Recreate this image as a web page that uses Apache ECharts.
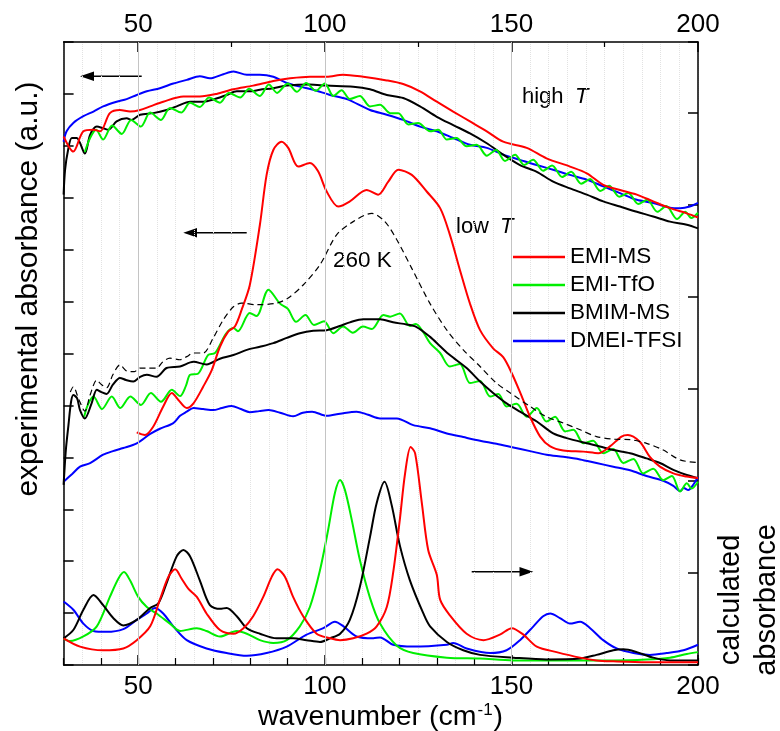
<!DOCTYPE html>
<html><head><meta charset="utf-8">
<script src="https://cdn.jsdelivr.net/npm/echarts@6/dist/echarts.min.js"></script>
<style>html,body{margin:0;padding:0;background:#fff}#c{width:780px;height:731px}</style>
</head><body><div id="c"></div>
<script>
// ---------- data ----------
const seriesNames = ['EMI-MS', 'EMI-TfO', 'BMIM-MS', 'DMEI-TFSI'];
const bottomTickLabels = [50, 100, 150, 200];
const topTickLabels = [50, 100, 150, 200];
const topMinorTicks = [75, 125, 175];

// experimental, high T (left axis, a.u.)
const highEMIMS = [[30,10.18],[32.6,9.89],[35.3,10.28],[38.0,10.31],[39.8,10.28],[42.4,10.63],[45.1,10.69],[47.8,10.66],[50.5,10.69],[53.2,10.76],[56.7,10.85],[62.1,10.95],[66.5,10.95],[71.0,11.0],[75.5,11.09],[80.8,11.16],[86.2,11.25],[90.7,11.30],[96.0,11.33],[100.5,11.33],[104.9,11.37],[110.3,11.33],[116.6,11.26],[121.0,11.19],[125.5,11.05],[130.0,10.85],[134.4,10.66],[138.9,10.47],[143.4,10.28],[147.8,10.08],[154.1,9.96],[159.4,9.76],[165.7,9.60],[170.2,9.47],[174.6,9.25],[179.1,9.15],[183.6,9.06],[188.0,8.93],[192.5,8.80],[197.0,8.70],[200,8.62]];
const highEMITfO = [[35.7,9.88],[37.1,10.15],[38.7,10.31],[40.6,10.12],[43.0,10.39],[45.6,10.23],[48.1,10.50],[50.7,10.37],[53.2,10.64],[56.1,10.50],[58.5,10.73],[61.5,10.64],[63.9,10.83],[66.5,10.75],[69.0,10.93],[71.9,10.83],[74.3,11.02],[77.3,10.93],[79.7,11.10],[82.6,10.96],[85.0,11.18],[87.2,11.02],[90.1,11.20],[92.5,11.04],[95.0,11.21],[97.6,11.06],[100.0,11.20],[102.3,10.96],[104.5,11.07],[106.7,10.90],[109.4,10.96],[112.1,10.76],[114.8,10.79],[117.5,10.63],[119.7,10.63],[122.4,10.41],[125.0,10.44],[128.2,10.28],[130.4,10.31],[132.7,10.12],[135.3,10.15],[138.0,9.99],[140.7,10.02],[143.4,9.81],[145.9,9.92],[148.3,9.71],[151.0,9.83],[153.4,9.63],[155.8,9.73],[158.5,9.52],[160.9,9.62],[163.6,9.40],[166.0,9.50],[168.7,9.27],[171.1,9.36],[173.8,9.13],[176.2,9.23],[178.9,9.02],[181.3,9.09],[184.0,8.88],[186.4,8.96],[189.1,8.73],[191.5,8.84],[194.4,8.59],[196.6,8.73],[198.2,8.61],[200,8.71]];
const highBMIMMS = [[30,9.06],[30.4,9.54],[31.2,9.92],[32.2,10.15],[33.5,10.15],[35.7,9.85],[37.1,10.21],[38.9,10.37],[40.6,10.34],[42.0,10.31],[44.2,10.47],[46.9,10.53],[48.2,10.50],[50.5,10.60],[54.0,10.63],[57.6,10.69],[60.3,10.76],[63.9,10.85],[67.4,10.85],[70.1,10.89],[73.7,10.98],[76.4,11.05],[79.9,11.05],[82.6,11.08],[86.2,11.11],[89.8,11.16],[96.0,11.18],[100.5,11.16],[107.6,11.14],[112.1,11.09],[116.6,10.98],[121.0,10.92],[125.5,10.76],[130.0,10.56],[134.4,10.40],[138.9,10.24],[143.4,10.05],[147.8,9.83],[152.3,9.63],[156.8,9.50],[161.2,9.31],[165.7,9.18],[170.2,9.06],[174.6,8.93],[179.1,8.83],[183.6,8.73],[188.0,8.64],[192.5,8.54],[197.0,8.48],[200,8.41]];
const highDMEITFSI = [[30,10.08],[30.8,10.28],[32.6,10.44],[35.3,10.57],[38.0,10.66],[40.6,10.76],[44.2,10.85],[46.9,10.90],[49.6,10.98],[52.3,11.05],[55.8,11.11],[59.4,11.20],[63.0,11.27],[66.5,11.34],[69.2,11.30],[72.8,11.38],[75.5,11.43],[79.1,11.37],[82.6,11.37],[86.2,11.33],[89.8,11.21],[93.3,11.14],[96.9,11.08],[101.4,10.98],[105.9,10.90],[112.1,10.69],[116.6,10.60],[121.0,10.50],[125.5,10.37],[130.0,10.28],[134.4,10.15],[138.9,10.02],[143.4,9.96],[147.8,9.83],[152.3,9.73],[156.8,9.63],[161.2,9.54],[165.7,9.44],[170.2,9.35],[174.6,9.22],[179.1,9.09],[183.6,8.96],[188.0,8.90],[192.5,8.81],[195.2,8.80],[197.8,8.83],[200,8.90]];

// experimental, low T (left axis, a.u.)
const lowEMIMS = [[49.6,4.48],[51.8,4.43],[54.0,4.59],[56.7,4.98],[59.0,5.24],[60.7,5.11],[63.0,4.95],[64.8,5.04],[67.4,5.36],[69.7,5.68],[71.9,6.13],[74.1,6.42],[75.9,6.52],[77.7,6.84],[79.9,7.32],[82.6,8.48],[84.4,9.44],[86.2,9.92],[88.4,10.08],[90.2,9.96],[92.9,9.60],[96.0,9.67],[98.2,9.51],[100.5,9.12],[103.6,8.83],[106.7,8.93],[111.2,9.15],[114.3,9.06],[117.0,9.31],[119.7,9.54],[123.3,9.44],[127.3,9.12],[130.9,8.80],[133.5,8.29],[136.2,7.61],[138.9,6.96],[141.6,6.45],[145.1,6.10],[147.8,5.93],[150.1,5.62],[152.8,5.17],[155.0,4.78],[157.7,4.40],[160.4,4.21],[163.9,4.13],[169.3,4.11],[173.3,4.08],[176.4,4.21],[179.5,4.40],[181.2,4.43],[184.4,4.30],[187.1,4.01],[189.8,3.82],[193.4,3.69],[196.9,3.63],[200,3.60]];
const lowEMITfO = [[35.5,4.78],[36.5,5.01],[38.0,5.17],[40.3,4.93],[42.9,5.17],[45.2,4.95],[47.9,5.17],[50.7,5.01],[53.4,5.24],[56.1,5.07],[59.0,5.30],[61.2,5.18],[62.8,5.38],[63.9,5.59],[66.0,5.61],[68.7,5.97],[70.6,6.01],[73.5,6.38],[75.5,6.49],[76.7,6.43],[79.9,6.78],[81.7,6.72],[84.9,7.23],[88.0,6.96],[90.1,6.86],[92.3,6.61],[94.8,6.74],[97.1,6.55],[99.8,6.62],[102.3,6.39],[104.9,6.52],[107.5,6.40],[110.2,6.52],[112.6,6.47],[115.7,6.74],[117.5,6.71],[120.1,6.77],[122.8,6.53],[124.4,6.57],[126.3,6.42],[128.2,6.20],[130.9,6.01],[133.5,5.75],[136.2,5.80],[138.9,5.43],[141.6,5.47],[144.3,5.17],[146.5,5.22],[148.7,4.98],[151.4,5.03],[154.1,4.78],[156.8,4.95],[159.4,4.69],[161.7,4.78],[164.4,4.50],[166.6,4.53],[169.3,4.27],[171.9,4.32],[174.6,4.08],[177.3,4.16],[180.0,3.89],[182.7,3.97],[185.3,3.69],[188.0,3.78],[190.7,3.56],[193.0,3.64],[195.2,3.34],[197.0,3.50],[198.3,3.40],[200,3.53]];
const lowBMIMMS = [[30.0,3.47],[30.6,4.14],[31.3,4.62],[32.0,5.07],[32.6,5.20],[33.6,5.14],[34.4,4.91],[35.7,4.75],[37.5,5.04],[38.9,5.30],[40.0,5.26],[41.5,5.22],[43.2,5.40],[45.1,5.53],[46.7,5.49],[48.7,5.46],[50.5,5.55],[52.3,5.59],[54.9,5.55],[57.6,5.72],[61.2,5.75],[64.8,5.84],[68.3,5.79],[71.9,5.90],[75.5,5.97],[79.1,6.07],[82.6,6.13],[86.2,6.20],[89.8,6.30],[93.3,6.39],[96.9,6.44],[100.5,6.45],[104.0,6.53],[106.7,6.60],[110.3,6.66],[114.8,6.66],[118.3,6.60],[121.9,6.56],[124.6,6.51],[128.2,6.32],[130.9,6.14],[133.5,5.97],[138.0,5.72],[141.6,5.46],[145.1,5.24],[148.7,5.04],[152.3,4.88],[156.8,4.69],[161.2,4.46],[164.8,4.37],[170.2,4.27],[173.7,4.21],[177.3,4.14],[181.8,4.08],[186.2,3.98],[189.8,3.89],[193.4,3.76],[197.0,3.66],[200,3.60]];
const lowDMEITFSI = [[30.0,3.53],[32.3,3.68],[34.4,3.82],[37.1,3.89],[40.6,4.05],[43.2,4.12],[46.0,4.18],[49.6,4.27],[53.2,4.45],[55.8,4.55],[59.4,4.66],[61.2,4.80],[63.0,4.88],[64.8,4.95],[67.4,4.93],[70.1,4.91],[72.4,4.95],[75.0,4.99],[77.5,4.93],[79.9,4.87],[82.4,4.89],[84.9,4.91],[88.0,4.86],[91.5,4.79],[94.1,4.86],[96.6,4.88],[100.5,4.80],[104.1,4.84],[108.5,4.88],[111.6,4.82],[114.8,4.75],[119.3,4.75],[123.7,4.62],[128.2,4.56],[132.7,4.46],[137.1,4.39],[141.6,4.32],[146.0,4.26],[150.5,4.19],[155.0,4.12],[159.4,4.05],[163.9,4.01],[168.4,3.96],[172.8,3.89],[177.3,3.82],[181.8,3.75],[186.2,3.64],[190.7,3.55],[193.4,3.45],[195.2,3.35],[196.2,3.41],[197.4,3.37],[198.7,3.47],[200,3.62]];
// EMI-MS at 260 K (dashed)
const k260EMIMS = [[31.8,5.26],[32.6,5.36],[34.1,5.11],[35.7,4.89],[37.1,5.20],[38.9,5.49],[40.0,5.41],[41.5,5.34],[43.2,5.59],[45.1,5.78],[47.0,5.66],[48.9,5.65],[50.5,5.72],[52.3,5.72],[54.9,5.72],[56.6,5.84],[58.5,5.91],[61.2,5.88],[63.0,5.94],[64.8,6.01],[67.4,6.01],[70.1,6.30],[72.8,6.65],[75.5,6.90],[77.7,6.97],[81.7,6.94],[87.1,6.97],[90.2,7.07],[94.2,7.32],[98.7,7.71],[103.2,8.29],[107.6,8.54],[112.6,8.70],[116.1,8.54],[119.3,8.19],[123.3,7.64],[128.2,6.96],[132.7,6.45],[137.1,6.07],[141.6,5.75],[146.0,5.43],[150.5,5.20],[155.0,4.98],[159.4,4.78],[163.9,4.66],[168.4,4.53],[172.8,4.40],[177.3,4.35],[181.8,4.34],[186.2,4.27],[190.7,4.14],[195.2,3.95],[199.6,3.90]];

// calculated (right axis)
const calcEMIMS = [[30,0.29],[34.4,0.20],[40.6,0.16],[46.0,0.18],[49.6,0.27],[53.2,0.42],[55.8,0.71],[58.1,0.96],[59.9,1.04],[61.6,0.94],[63.4,0.83],[65.7,0.74],[68.3,0.56],[71.9,0.38],[75.5,0.34],[78.2,0.40],[80.8,0.53],[83.5,0.74],[85.8,0.96],[87.3,1.04],[89.3,0.96],[91.5,0.74],[94.2,0.53],[97.8,0.34],[101.4,0.29],[104.1,0.27],[107.6,0.29],[111.2,0.34],[113.9,0.42],[116.6,0.63],[118.3,1.00],[120.1,1.58],[121.5,2.08],[123.0,2.37],[124.2,2.30],[126.0,1.76],[127.7,1.25],[130.0,0.98],[130.9,0.71],[133.5,0.54],[138.0,0.34],[142.5,0.27],[146.9,0.33],[150.1,0.40],[153.2,0.33],[156.8,0.20],[162.1,0.14],[168.4,0.08],[172.8,0.05],[177.3,0.04],[186.2,0.03],[200,0.03]];
const calcEMITfO = [[30,0.29],[31.7,0.26],[35.3,0.31],[38.9,0.42],[42.4,0.74],[44.7,0.94],[46.2,1.01],[47.8,0.92],[50.0,0.74],[52.3,0.63],[54.9,0.56],[58.5,0.45],[61.2,0.37],[65.7,0.40],[68.3,0.37],[71.9,0.31],[76.4,0.37],[79.1,0.34],[82.6,0.27],[86.2,0.24],[89.8,0.27],[93.3,0.42],[96.0,0.63],[98.7,1.03],[100.9,1.47],[102.7,1.87],[104.1,2.01],[105.4,1.90],[107.2,1.58],[109.4,1.14],[112.1,0.73],[114.8,0.45],[119.3,0.21],[123.7,0.13],[132.7,0.08],[141.6,0.07],[150.5,0.05],[159.4,0.05],[177.3,0.05],[186.2,0.06],[192.5,0.08],[197.0,0.12],[200,0.14]];
const calcBMIMMS = [[30,0.29],[32.6,0.38],[35.3,0.60],[38.0,0.76],[40.6,0.65],[43.3,0.51],[46.0,0.43],[49.6,0.49],[53.2,0.62],[55.4,0.67],[57.6,0.89],[60.3,1.18],[62.1,1.25],[63.9,1.18],[66.5,0.92],[69.2,0.65],[71.9,0.61],[73.7,0.62],[76.4,0.53],[79.1,0.40],[82.6,0.34],[87.1,0.29],[91.5,0.29],[95.1,0.27],[98.7,0.25],[101.4,0.29],[104.1,0.34],[106.7,0.49],[109.4,0.85],[112.1,1.39],[113.9,1.76],[116.0,1.99],[117.9,1.74],[120.1,1.30],[122.8,0.92],[126.4,0.56],[128.2,0.42],[132.7,0.25],[137.1,0.16],[141.6,0.11],[150.5,0.08],[159.4,0.06],[168.4,0.07],[172.8,0.11],[177.3,0.16],[180.0,0.17],[183.6,0.14],[188.0,0.08],[192.5,0.05],[200,0.05]];
const calcDMEITFSI = [[30,0.69],[32.6,0.60],[35.3,0.45],[38.0,0.37],[41.5,0.36],[46.0,0.39],[49.6,0.49],[52.3,0.56],[54.5,0.62],[56.7,0.56],[59.4,0.42],[63.0,0.27],[68.3,0.18],[73.7,0.13],[79.1,0.10],[84.4,0.13],[89.8,0.20],[95.1,0.33],[99.6,0.40],[102.7,0.47],[105.0,0.42],[108.5,0.31],[113.0,0.29],[114.8,0.30],[118.3,0.22],[123.7,0.20],[132.7,0.22],[134.4,0.24],[138.0,0.18],[144.3,0.13],[148.7,0.16],[152.3,0.27],[155.9,0.42],[158.5,0.53],[160.4,0.56],[163.0,0.51],[165.7,0.45],[168.4,0.47],[171.1,0.40],[174.6,0.27],[178.2,0.18],[182.7,0.13],[187.1,0.11],[191.6,0.13],[196.1,0.16],[200,0.22]];

// ---------- chart ----------
const FONT = '"Liberation Sans", Arial, sans-serif';
const COL = { 'EMI-MS': '#ff0000', 'EMI-TfO': '#00ee00', 'BMIM-MS': '#000000', 'DMEI-TFSI': '#0000ff' };
const chart = echarts.init(document.getElementById('c'), null, { renderer: 'canvas' });

function line(name, data, yIdx, extra) {
  return Object.assign({
    type: 'line', name: name, data: data, xAxisIndex: 0, yAxisIndex: yIdx,
    symbol: 'none', smooth: 0.3, animation: false, z: 3,
    itemStyle: { color: COL[name] },
    lineStyle: { color: COL[name], width: 2 }
  }, extra || {});
}

const hiddenAxisBase = { min: 30, max: 200, type: 'value', axisLine: { show: false }, axisLabel: { show: false }, axisTick: { show: false }, splitLine: { show: false } };

const option = {
  animation: false,
  backgroundColor: '#ffffff',
  grid: { left: 63.6, right: 82, top: 42, bottom: 66, containLabel: false },
  xAxis: [
    { // bottom main: labels + ticks at 50s
      type: 'value', position: 'bottom', min: 30, max: 200,
      axisLine: { show: true, onZero: false, lineStyle: { color: '#000', width: 1.5 } },
      axisTick: { show: true, inside: true, length: 10, customValues: bottomTickLabels, lineStyle: { color: '#000', width: 1.5 } },
      axisLabel: { show: true, customValues: bottomTickLabels, margin: 9, fontSize: 26, fontFamily: FONT, color: '#000' },
      splitLine: { show: false }
    },
    Object.assign({}, hiddenAxisBase, { // bottom minor ticks every 10
      position: 'bottom', interval: 10,
      axisTick: { show: true, inside: true, length: 7, lineStyle: { color: '#000', width: 1.2 } }
    }),
    Object.assign({}, hiddenAxisBase, { // dotted grid every 5
      position: 'bottom', interval: 5,
      splitLine: { show: true, lineStyle: { type: 'dotted', color: '#e2e2e2', width: 1 } }
    }),
    { // top main
      type: 'value', position: 'top', min: 30, max: 200,
      axisLine: { show: true, onZero: false, lineStyle: { color: '#000', width: 1.5 } },
      axisTick: { show: true, inside: true, length: 10, customValues: topTickLabels, lineStyle: { color: '#000', width: 1.5 } },
      axisLabel: { show: true, customValues: topTickLabels, margin: 4, fontSize: 26, fontFamily: FONT, color: '#000' },
      splitLine: { show: false }
    },
    Object.assign({}, hiddenAxisBase, { // top minor ticks
      position: 'top',
      axisTick: { show: true, inside: true, length: 5, customValues: topMinorTicks, lineStyle: { color: '#000', width: 1.2 } }
    })
  ],
  yAxis: [
    {
      type: 'value', position: 'left', min: 0, max: 12, interval: 1,
      axisLine: { show: true, onZero: false, lineStyle: { color: '#000', width: 1.5 } },
      axisTick: { show: true, inside: true, length: 10, lineStyle: { color: '#000', width: 1.5 } },
      axisLabel: { show: false }, splitLine: { show: false }
    },
    {
      type: 'value', position: 'right', min: 0, max: 6.77, interval: 1,
      axisLine: { show: true, onZero: false, lineStyle: { color: '#000', width: 1.5 } },
      axisTick: { show: true, inside: true, length: 10, lineStyle: { color: '#000', width: 1.5 } },
      axisLabel: { show: false }, splitLine: { show: false }
    }
  ],
  legend: {
    data: seriesNames, orient: 'vertical', left: 513, top: 245, padding: 0,
    itemGap: 4, icon: 'rect', itemWidth: 52, itemHeight: 2.5, selectedMode: false,
    textStyle: { fontSize: 22.5, fontFamily: FONT, color: '#000', lineHeight: 24 }
  },
  series: [
    { type: 'line', name: 'grid50', data: [], xAxisIndex: 0, yAxisIndex: 0, z: 1, silent: true,
      markLine: { silent: true, symbol: 'none', label: { show: false },
        lineStyle: { color: '#c4c4c4', width: 1, type: 'solid' },
        data: [{ xAxis: 50 }, { xAxis: 100 }, { xAxis: 150 }] } },
    line('DMEI-TFSI', highDMEITFSI, 0),
    line('BMIM-MS', highBMIMMS, 0),
    line('EMI-TfO', highEMITfO, 0),
    line('EMI-MS', highEMIMS, 0),
    line('DMEI-TFSI', lowDMEITFSI, 0),
    line('EMI-TfO', lowEMITfO, 0),
    line('BMIM-MS', lowBMIMMS, 0),
    line('EMI-MS', lowEMIMS, 0),
    { type: 'line', name: '260 K', data: k260EMIMS, xAxisIndex: 0, yAxisIndex: 0, symbol: 'none', smooth: 0.3, z: 3,
      lineStyle: { color: '#000', width: 1.2, type: [6, 4] }, itemStyle: { color: '#000' } },
    line('DMEI-TFSI', calcDMEITFSI, 1),
    line('EMI-TfO', calcEMITfO, 1),
    line('BMIM-MS', calcBMIMMS, 1),
    line('EMI-MS', calcEMIMS, 1)
  ],
  graphic: { elements: [
    { type: 'text', x: 29, y: 289, rotation: Math.PI / 2,
      style: { text: 'experimental absorbance (a.u.)', font: '30px ' + FONT, fill: '#000', align: 'center', verticalAlign: 'middle' } },
    { type: 'text', x: 731, y: 600, rotation: Math.PI / 2,
      style: { text: 'calculated', font: '29px ' + FONT, fill: '#000', align: 'center', verticalAlign: 'middle' } },
    { type: 'text', x: 767, y: 600, rotation: Math.PI / 2,
      style: { text: 'absorbance', font: '29px ' + FONT, fill: '#000', align: 'center', verticalAlign: 'middle' } },
    { type: 'text', x: 380.5, y: 717,
      style: { text: 'wavenumber (cm{s|-1}{n|)}', font: '28.5px ' + FONT, fill: '#000', align: 'center', verticalAlign: 'middle',
        rich: { s: { fontSize: 17, fontFamily: FONT, verticalAlign: 'top', padding: [0, 1, 14, 1] }, n: { fontSize: 28.5, fontFamily: FONT } } } },
    { type: 'text', x: 522, y: 97, style: { text: 'high', font: '22px ' + FONT, fill: '#000', align: 'left', verticalAlign: 'middle' } },
    { type: 'text', x: 575, y: 97, style: { text: 'T', font: 'italic 22px ' + FONT, fill: '#000', align: 'left', verticalAlign: 'middle' } },
    { type: 'text', x: 456, y: 227, style: { text: 'low', font: '22px ' + FONT, fill: '#000', align: 'left', verticalAlign: 'middle' } },
    { type: 'text', x: 500, y: 227, style: { text: 'T', font: 'italic 22px ' + FONT, fill: '#000', align: 'left', verticalAlign: 'middle' } },
    { type: 'text', x: 333, y: 261, style: { text: '260 K', font: '22.5px ' + FONT, fill: '#000', align: 'left', verticalAlign: 'middle' } },
    { type: 'line', shape: { x1: 92, y1: 76.3, x2: 141.7, y2: 76.3 }, style: { stroke: '#000', lineWidth: 1.5 } },
    { type: 'polygon', shape: { points: [[80, 76.3], [94, 71.5], [94, 81.1]] }, style: { fill: '#000' } },
    { type: 'line', shape: { x1: 195, y1: 232.7, x2: 246.7, y2: 232.7 }, style: { stroke: '#000', lineWidth: 1.5 } },
    { type: 'polygon', shape: { points: [[183.3, 232.7], [197, 227.9], [197, 237.5]] }, style: { fill: '#000' } },
    { type: 'line', shape: { x1: 471.7, y1: 571.7, x2: 521, y2: 571.7 }, style: { stroke: '#000', lineWidth: 1.5 } },
    { type: 'polygon', shape: { points: [[533.3, 571.7], [519.5, 566.9], [519.5, 576.5]] }, style: { fill: '#000' } }
  ] }
};
chart.setOption(option);
</script>
</body></html>
